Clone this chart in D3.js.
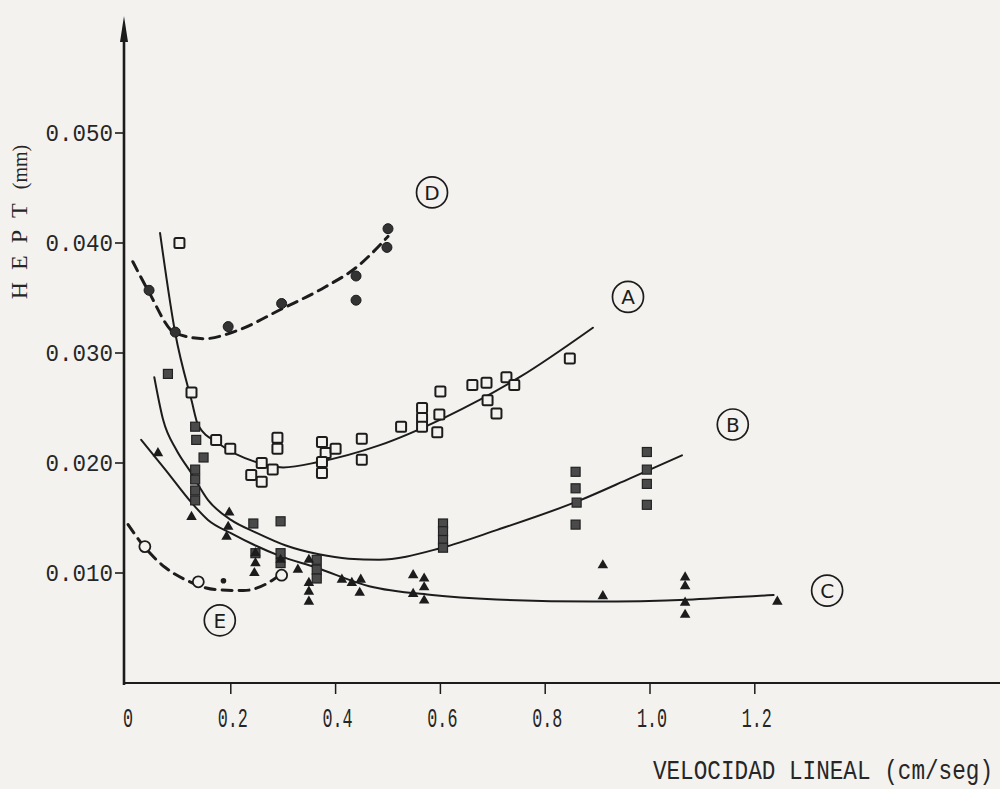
<!DOCTYPE html>
<html>
<head>
<meta charset="utf-8">
<script src="https://cdn.jsdelivr.net/npm/d3@7"></script>
<style>
  html, body { margin: 0; padding: 0; background: #f3f2ef; }
  svg { display: block; }
</style>
</head>
<body>
<svg id="chart" width="1000" height="789"></svg>
<script>
// ---- Data: HEPT (mm) versus linear velocity (cm/seg) ----
const xTicks = [0, 0.2, 0.4, 0.6, 0.8, 1.0, 1.2];
const xTickLabels = ["0", "0.2", "0.4", "0.6", "0.8", "1.0", "1.2"];
const yTicks = [0.010, 0.020, 0.030, 0.040, 0.050];
const yTickLabels = ["0.010", "0.020", "0.030", "0.040", "0.050"];

// Series A: open squares, solid fitted curve
const pointsA = [
  [0.102,0.0400],[0.125,0.0264],[0.172,0.0221],[0.199,0.0213],[0.239,0.0189],
  [0.259,0.0200],[0.259,0.0183],[0.280,0.0194],[0.289,0.0223],[0.289,0.0213],
  [0.374,0.0219],[0.381,0.0209],[0.400,0.0213],[0.374,0.0201],[0.374,0.0191],
  [0.450,0.0222],[0.450,0.0203],[0.525,0.0233],[0.565,0.0250],[0.565,0.0241],
  [0.565,0.0233],[0.598,0.0244],[0.594,0.0228],[0.600,0.0265],[0.661,0.0271],
  [0.688,0.0273],[0.690,0.0257],[0.707,0.0245],[0.726,0.0278],[0.741,0.0271],
  [0.847,0.0295]
];
const curveA = [
  [0.065,0.0409],[0.094,0.0318],[0.125,0.0257],[0.138,0.0234],[0.176,0.0218],
  [0.247,0.0201],[0.300,0.0196],[0.368,0.0201],[0.483,0.0216],[0.611,0.0242],
  [0.751,0.0278],[0.891,0.0323]
];

// Series B: filled squares, solid fitted curve
const pointsB = [
  [0.080,0.0281],[0.132,0.0233],[0.134,0.0221],[0.148,0.0205],[0.132,0.0194],
  [0.132,0.0185],[0.132,0.0175],[0.132,0.0166],[0.243,0.0145],[0.295,0.0147],
  [0.247,0.0118],[0.295,0.0118],[0.295,0.0109],[0.364,0.0112],[0.364,0.0103],
  [0.364,0.0095],[0.605,0.0145],[0.605,0.0138],[0.605,0.0130],[0.605,0.0123],
  [0.858,0.0192],[0.858,0.0177],[0.860,0.0164],[0.858,0.0144],[0.994,0.0210],
  [0.994,0.0194],[0.994,0.0181],[0.994,0.0162]
];
const curveB = [
  [0.054,0.0278],[0.071,0.0239],[0.096,0.0212],[0.123,0.0192],[0.157,0.0166],
  [0.201,0.0148],[0.247,0.0137],[0.305,0.0125],[0.368,0.0117],[0.425,0.0113],
  [0.483,0.0112],[0.603,0.0123],[0.707,0.0139],[0.866,0.0166],[0.962,0.0186],
  [1.061,0.0207]
];

// Series C: filled triangles, solid fitted curve
const pointsC = [
  [0.061,0.0209],[0.125,0.0151],[0.197,0.0155],[0.195,0.0142],[0.192,0.0133],
  [0.247,0.0118],[0.247,0.0109],[0.245,0.0100],[0.295,0.0112],[0.328,0.0103],
  [0.349,0.0112],[0.349,0.0091],[0.349,0.0083],[0.349,0.0074],[0.412,0.0094],
  [0.431,0.0091],[0.448,0.0094],[0.446,0.0082],[0.548,0.0098],[0.548,0.0081],
  [0.569,0.0095],[0.569,0.0087],[0.569,0.0075],[0.910,0.0107],[0.910,0.0079],
  [1.067,0.0096],[1.067,0.0088],[1.067,0.0073],[1.067,0.0062],[1.243,0.0074]
];
const curveC = [
  [0.029,0.0221],[0.075,0.0194],[0.125,0.0164],[0.157,0.0148],[0.201,0.0136],
  [0.247,0.0125],[0.291,0.0116],[0.362,0.0105],[0.464,0.0088],[0.584,0.0080],
  [0.707,0.0076],[0.891,0.0074],[1.082,0.0076],[1.236,0.0080]
];

// Series D: filled circles, dashed fitted curve
const pointsD = [
  [0.044,0.0357],[0.094,0.0319],[0.195,0.0324],[0.297,0.0345],[0.439,0.0370],
  [0.439,0.0348],[0.498,0.0396],[0.500,0.0413]
];
const curveD = [
  [0.013,0.0383],[0.042,0.0357],[0.094,0.0318],[0.150,0.0313],[0.210,0.0320],
  [0.297,0.0340],[0.380,0.0360],[0.440,0.0378],[0.500,0.0406]
];

// Series E: open circles, dashed fitted curve
const pointsE = [[0.036,0.0124],[0.138,0.0092],[0.297,0.0098]];
const dotsE = [[0.186,0.0093]];
const curveE = [
  [0.004,0.0144],[0.033,0.0125],[0.075,0.0105],[0.113,0.0094],[0.170,0.0085],
  [0.224,0.0084],[0.278,0.0093],[0.301,0.0101]
];

// Circled curve names
const curveNames = ["D", "A", "B", "C", "E"];
const curveNamePos = [[0.584,0.0446],[0.958,0.0351],[1.158,0.0235],[1.338,0.0084],[0.179,0.0057]];

// ---- Drawing ----
const ink = "#1c1c1c";
const textInk = "#262626";
const mono = "Liberation Mono, DejaVu Sans Mono, monospace";
const svg = d3.select("#chart");
const x = d3.scaleLinear().domain([0, 1]).range([126, 650]);
const y = d3.scaleLinear().domain([0, 0.05]).range([683, 133]);

// Axes
const axisG = svg.append("g");
axisG.append("line")
  .attr("x1", x(0) - 2).attr("x2", 1000)
  .attr("y1", y(0)).attr("y2", y(0))
  .attr("stroke", ink).attr("stroke-width", 2.2);
axisG.append("line")
  .attr("x1", x(0) - 2).attr("x2", x(0) - 2)
  .attr("y1", y(0) + 2).attr("y2", 34)
  .attr("stroke", ink).attr("stroke-width", 2.6);
axisG.append("path")
  .attr("d", d3.line()([[x(0) - 6, 42], [x(0) - 2, 16], [x(0) + 2, 42]]) + "Z")
  .attr("fill", ink);

// Y ticks and labels
axisG.selectAll(".ytick").data(yTicks).join("line")
  .attr("x1", x(0) - 11).attr("x2", x(0) - 2)
  .attr("y1", d => y(d)).attr("y2", d => y(d))
  .attr("stroke", ink).attr("stroke-width", 1.6);
axisG.selectAll(".ylab").data(yTicks).join("text")
  .attr("transform", d => `translate(${x(0) - 13},${y(d) + 8}) scale(1,1.1)`)
  .attr("text-anchor", "end")
  .attr("font-family", mono)
  .attr("font-size", 22.5).attr("fill", textInk)
  .text((d, i) => yTickLabels[i]);

// X ticks and labels (narrow typewriter face)
axisG.selectAll(".xtick").data(xTicks.slice(1)).join("line")
  .attr("x1", d => x(d)).attr("x2", d => x(d))
  .attr("y1", y(0)).attr("y2", y(0) + 11)
  .attr("stroke", ink).attr("stroke-width", 1.5);
axisG.selectAll(".xlab").data(xTicks).join("text")
  .attr("transform", d => `translate(${x(d) + 2},${y(0) + 44}) scale(0.62,1)`)
  .attr("text-anchor", "middle")
  .attr("font-family", mono)
  .attr("font-size", 27).attr("fill", textInk)
  .text((d, i) => xTickLabels[i]);

// Axis titles
svg.append("text")
  .attr("transform", `translate(993,779) scale(0.84,1)`)
  .attr("text-anchor", "end")
  .attr("font-family", mono)
  .attr("font-size", 27).attr("fill", textInk)
  .text("VELOCIDAD LINEAL (cm/seg)");
const yTitle = svg.append("text")
  .attr("transform", `translate(27,222) rotate(-90)`)
  .attr("text-anchor", "middle")
  .attr("font-family", "Liberation Serif, DejaVu Serif, serif")
  .attr("fill", textInk);
yTitle.append("tspan").attr("font-size", 24).attr("letter-spacing", 12).text("HEPT");
yTitle.append("tspan").attr("font-size", 20).attr("dx", 2).text("(mm)");

// Fitted curves
const lineGen = d3.line().x(d => x(d[0])).y(d => y(d[1])).curve(d3.curveMonotoneX);
const curves = [
  { data: curveA, dash: null, w: 2.0 },
  { data: curveB, dash: null, w: 2.0 },
  { data: curveC, dash: null, w: 2.0 },
  { data: curveD, dash: "10,7", w: 3.0 },
  { data: curveE, dash: "10,7", w: 3.0 }
];
svg.append("g").selectAll("path").data(curves).join("path")
  .attr("d", d => lineGen(d.data))
  .attr("fill", "none").attr("stroke", ink)
  .attr("stroke-width", d => d.w)
  .attr("stroke-dasharray", d => d.dash)
  .attr("stroke-linecap", "round");

// Markers
const mk = svg.append("g");
mk.selectAll(".sqA").data(pointsA).join("rect")
  .attr("x", d => x(d[0]) - 5).attr("y", d => y(d[1]) - 5)
  .attr("width", 10).attr("height", 10).attr("rx", 1.5)
  .attr("fill", "#f3f2ef").attr("stroke", ink).attr("stroke-width", 2);
mk.selectAll(".sqB").data(pointsB).join("rect")
  .attr("x", d => x(d[0]) - 4.5).attr("y", d => y(d[1]) - 4.5)
  .attr("width", 9).attr("height", 9)
  .attr("fill", "#4a4a4a").attr("stroke", "#222").attr("stroke-width", 1.2);
const tri = d3.symbol().type(d3.symbolTriangle).size(48);
mk.selectAll(".triC").data(pointsC).join("path")
  .attr("transform", d => `translate(${x(d[0])},${y(d[1])})`)
  .attr("d", tri).attr("fill", ink);
mk.selectAll(".cirD").data(pointsD).join("circle")
  .attr("cx", d => x(d[0])).attr("cy", d => y(d[1])).attr("r", 5)
  .attr("fill", "#333").attr("stroke", ink).attr("stroke-width", 1);
mk.selectAll(".cirE").data(pointsE).join("circle")
  .attr("cx", d => x(d[0])).attr("cy", d => y(d[1])).attr("r", 5.5)
  .attr("fill", "#f3f2ef").attr("stroke", ink).attr("stroke-width", 1.8);
mk.selectAll(".dotE").data(dotsE).join("circle")
  .attr("cx", d => x(d[0])).attr("cy", d => y(d[1])).attr("r", 2.8)
  .attr("fill", ink);

// Circled curve names
const nameG = svg.append("g").selectAll("g").data(curveNames).join("g")
  .attr("transform", (d, i) => `translate(${x(curveNamePos[i][0])},${y(curveNamePos[i][1])})`);
nameG.append("circle").attr("r", 15.5)
  .attr("fill", "none").attr("stroke", ink).attr("stroke-width", 1.7);
nameG.append("text").attr("y", 7.5).attr("text-anchor", "middle")
  .attr("font-family", "DejaVu Sans, sans-serif").attr("font-size", 20)
  .attr("fill", ink).text(d => d);
</script>
</body>
</html>
